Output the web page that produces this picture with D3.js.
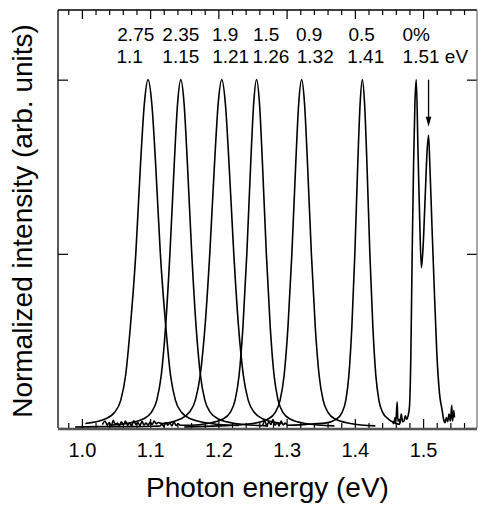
<!DOCTYPE html>
<html>
<head>
  <meta charset="UTF-8">
  <title>Normalized PL spectra</title>
  <script src="https://d3js.org/d3.v7.min.js"></script>
  <style>
    body { margin: 0; background: #fff; font-family: "Liberation Sans", Arial, sans-serif; }
    .axis path { display: none; }
    .axis line { stroke: #000; stroke-width: 1.2; }
    .curve { fill: none; stroke: #000; stroke-width: 1.6; stroke-linejoin: round; }
  </style>
</head>
<body>
  <div id="chart"></div>
  <script>
    // spectra: [photon energy (eV), normalized intensity]
    const spec275 = [[1.005,0.013],[1.033,0.025],[1.048,0.045],[1.057,0.08],[1.064,0.15],[1.071,0.29],[1.079,0.5],[1.086,0.76],[1.0915,0.93],[1.097,1.0],
      [1.1025,0.93],[1.108,0.76],[1.115,0.5],[1.123,0.29],[1.130,0.15],[1.137,0.08],[1.146,0.045],[1.161,0.025],[1.189,0.013],[1.23,0.007]];
    const spec235 = [[1.040,0.008],[1.065,0.013],[1.089,0.025],[1.1018,0.045],[1.1098,0.08],[1.1162,0.15],[1.1226,0.29],[1.129,0.5],[1.1354,0.76],[1.1402,0.93],[1.145,1.0],
      [1.1498,0.93],[1.1546,0.76],[1.161,0.5],[1.1674,0.29],[1.1738,0.15],[1.1802,0.08],[1.1882,0.045],[1.201,0.025],[1.225,0.013],[1.273,0.006]];
    const spec19 = [[1.030,0.010],[1.034,0.02],[1.037,0.008],[1.040,0.016],[1.043,0.006],[1.046,0.022],[1.049,0.01],[1.052,0.014],[1.055,0.007],[1.058,0.018],
      [1.061,0.009],[1.064,0.02],[1.067,0.008],[1.070,0.015],[1.073,0.006],[1.076,0.021],[1.079,0.01],[1.082,0.016],[1.085,0.007],[1.088,0.019],
      [1.091,0.009],[1.094,0.014],[1.097,0.008],[1.100,0.017],[1.103,0.01],[1.106,0.02],[1.109,0.012],[1.112,0.016],[1.117,0.013],[1.1434,0.025],
      [1.1575,0.045],[1.1663,0.08],[1.1733,0.15],[1.1804,0.29],[1.1874,0.5],[1.1944,0.76],[1.1997,0.93],[1.205,1.0],
      [1.2103,0.93],[1.2156,0.76],[1.2226,0.5],[1.2296,0.29],[1.2367,0.15],[1.2437,0.08],[1.2525,0.045],[1.2666,0.025],[1.293,0.013]];
    const spec15 = [[0.990,0.003],[1.03,0.004],[1.07,0.004],[1.10,0.005],[1.115,0.006],[1.117,0.012],[1.120,0.004],[1.123,0.016],[1.126,0.008],[1.129,0.014],
      [1.132,0.006],[1.135,0.018],[1.138,0.007],[1.141,0.012],[1.144,0.008],[1.160,0.008],[1.184,0.013],[1.206,0.025],[1.2174,0.045],[1.2245,0.08],
      [1.2303,0.15],[1.236,0.29],[1.2417,0.5],[1.2474,0.76],[1.2517,0.93],[1.256,1.0],[1.2603,0.93],[1.2646,0.76],[1.2703,0.5],[1.276,0.29],
      [1.2817,0.15],[1.2875,0.08],[1.2946,0.045],[1.306,0.025],[1.3275,0.013],[1.37,0.006]];
    const spec09 = [[1.150,0.003],[1.20,0.006],[1.2505,0.013],[1.272,0.025],[1.2834,0.045],[1.2905,0.08],[1.2963,0.15],[1.302,0.29],[1.3077,0.5],[1.3134,0.76],
      [1.3177,0.93],[1.322,1.0],[1.3263,0.93],[1.3306,0.76],[1.3363,0.5],[1.342,0.29],[1.3477,0.15],[1.3535,0.08],[1.3606,0.045],[1.372,0.025],[1.3935,0.013],[1.43,0.006]];
    const spec05 = [[1.265,0.008],[1.268,0.02],[1.271,0.006],[1.274,0.018],[1.277,0.01],[1.280,0.024],[1.283,0.008],[1.286,0.016],[1.289,0.006],[1.292,0.02],
      [1.295,0.009],[1.298,0.014],[1.301,0.008],[1.32,0.009],[1.34,0.012],[1.356,0.014],[1.3725,0.025],[1.3813,0.045],[1.3868,0.08],[1.3912,0.15],
      [1.3956,0.29],[1.400,0.5],[1.4043,0.76],[1.4077,0.93],[1.411,1.0],[1.4143,0.93],[1.4177,0.76],[1.422,0.5],[1.4264,0.29],[1.4308,0.15],
      [1.4352,0.08],[1.4407,0.045],[1.4495,0.025],[1.458,0.015],[1.466,0.01]];
    const spec0 = [[1.455,0.02],[1.457,0.012],[1.459,0.03],[1.460,0.015],[1.462,0.075],[1.463,0.02],[1.465,0.025],[1.466,0.012],[1.468,0.04],[1.470,0.018],
      [1.472,0.02],[1.474,0.035],[1.476,0.025],[1.478,0.035],[1.480,0.06],[1.482,0.2],[1.484,0.5],[1.486,0.75],[1.488,0.93],[1.490,1.0],
      [1.4925,0.8],[1.495,0.6],[1.4975,0.46],[1.500,0.52],[1.503,0.66],[1.506,0.8],[1.508,0.84],[1.510,0.75],[1.513,0.58],[1.516,0.42],
      [1.520,0.22],[1.524,0.1],[1.528,0.05],[1.530,0.025],[1.532,0.015],[1.534,0.03],[1.536,0.018],[1.538,0.04],[1.540,0.02],[1.542,0.065],
      [1.543,0.02],[1.545,0.05],[1.546,0.03]];
    const spectra = [spec275, spec235, spec19, spec15, spec09, spec05, spec0];

    // labels above the peaks: composition (%) and peak energy (eV)
    const compLabels = ["2.75", "2.35", "1.9", "1.5", "0.9", "0.5", "0%"];
    const peakLabels = ["1.1", "1.15", "1.21", "1.26", "1.32", "1.41", "1.51 eV"];

    const xMajor = [1.0, 1.1, 1.2, 1.3, 1.4, 1.5];
    const xMinor = [0.98,1.02,1.04,1.06,1.08,1.12,1.14,1.16,1.18,1.22,1.24,1.26,1.28,1.32,1.34,1.36,1.38,1.42,1.44,1.46,1.48,1.52,1.54,1.56];
    const yMajor = [0, 0.5, 1.0];

    // arrow marking the 1.51 eV line
    const arrowE = 1.508, arrowTop = 1.0, arrowTip = 0.865;

    // where the labels sit (energy of label centre)
    const compPos = [1.079, 1.145, 1.210, 1.270, 1.333, 1.410, 1.490];
    const peakPos = [1.070, 1.145, 1.218, 1.277, 1.342, 1.416, 1.470];

    const W = 478, H = 506;
    const pLeft = 58, pRight = 477, pTop = 10, pBottom = 428;

    const svg = d3.select("#chart").append("svg")
      .attr("width", W).attr("height", H);

    const x = d3.scaleLinear().domain([0.965, 1.579]).range([pLeft, pRight]);
    const y = d3.scaleLinear().domain([0, 1.2]).range([pBottom, pTop]);

    const font = "'Liberation Sans', Arial, sans-serif";

    // bottom axis
    svg.append("g").attr("class", "axis")
      .attr("transform", `translate(0,${pBottom})`)
      .call(d3.axisBottom(x).tickValues(xMajor).tickSize(-9).tickPadding(15).tickFormat(d3.format(".1f")))
      .selectAll("text").style("font-size", "20px").style("font-family", font).attr("fill", "#000");
    svg.append("g").attr("class", "axis")
      .attr("transform", `translate(0,${pBottom})`)
      .call(d3.axisBottom(x).tickValues(xMinor).tickSize(-5).tickFormat(""));

    // top axis (mirror)
    svg.append("g").attr("class", "axis")
      .attr("transform", `translate(0,${pTop})`)
      .call(d3.axisTop(x).tickValues(xMajor).tickSize(-9).tickFormat(""));
    svg.append("g").attr("class", "axis")
      .attr("transform", `translate(0,${pTop})`)
      .call(d3.axisTop(x).tickValues(xMinor).tickSize(-5).tickFormat(""));

    // left / right axes, no labels
    svg.append("g").attr("class", "axis")
      .attr("transform", `translate(${pLeft},0)`)
      .call(d3.axisLeft(y).tickValues(yMajor).tickSize(-10).tickFormat(""));
    svg.append("g").attr("class", "axis")
      .attr("transform", `translate(${pRight},0)`)
      .call(d3.axisRight(y).tickValues(yMajor).tickSize(-10).tickFormat(""));

    // frame
    svg.append("line").attr("x1", pLeft).attr("x2", pLeft).attr("y1", pTop).attr("y2", pBottom)
      .attr("stroke", "#000").attr("stroke-width", 1.3);
    svg.append("line").attr("x1", pLeft).attr("x2", pRight).attr("y1", pTop).attr("y2", pTop)
      .attr("stroke", "#000").attr("stroke-width", 1.3);
    svg.append("line").attr("x1", pRight).attr("x2", pRight).attr("y1", pTop).attr("y2", pBottom)
      .attr("stroke", "#777").attr("stroke-width", 1.3);
    svg.append("line").attr("x1", pLeft).attr("x2", pRight).attr("y1", pBottom + 1).attr("y2", pBottom + 1)
      .attr("stroke", "#555").attr("stroke-width", 2.5);

    const line = d3.line()
      .x(d => x(d[0]))
      .y(d => y(d[1]))
      .curve(d3.curveMonotoneX);

    svg.selectAll(".curve")
      .data(spectra)
      .enter()
      .append("path")
      .attr("class", "curve")
      .attr("d", line);

    // arrow
    svg.append("line")
      .attr("x1", x(arrowE)).attr("x2", x(arrowE))
      .attr("y1", y(arrowTop)).attr("y2", y(arrowTip) - 6)
      .attr("stroke", "#000").attr("stroke-width", 1.3);
    const ax = x(arrowE), ay = y(arrowTip);
    svg.append("path")
      .attr("d", `M${ax},${ay} L${ax - 2.8},${ay - 10} L${ax + 2.8},${ay - 10} Z`)
      .attr("fill", "#000");

    // labels
    svg.selectAll(".comp")
      .data(compLabels)
      .enter()
      .append("text")
      .attr("class", "comp")
      .attr("x", (d, i) => x(compPos[i]))
      .attr("y", 41)
      .attr("text-anchor", "middle")
      .style("font-size", "19px")
      .style("font-family", font)
      .text(d => d);

    svg.selectAll(".peak")
      .data(peakLabels)
      .enter()
      .append("text")
      .attr("class", "peak")
      .attr("x", (d, i) => x(peakPos[i]))
      .attr("y", 63)
      .attr("text-anchor", (d, i) => i === peakLabels.length - 1 ? "start" : "middle")
      .style("font-size", "19px")
      .style("font-family", font)
      .text(d => d);

    // axis titles
    svg.append("text")
      .attr("x", (pLeft + pRight) / 2)
      .attr("y", 497)
      .attr("text-anchor", "middle")
      .style("font-size", "28px")
      .style("font-family", font)
      .text("Photon energy (eV)");

    svg.append("text")
      .attr("transform", `translate(32,${(pTop + pBottom) / 2 + 2}) rotate(-90)`)
      .attr("text-anchor", "middle")
      .style("font-size", "28px")
      .style("font-family", font)
      .text("Normalized intensity (arb. units)");
  </script>
</body>
</html>
